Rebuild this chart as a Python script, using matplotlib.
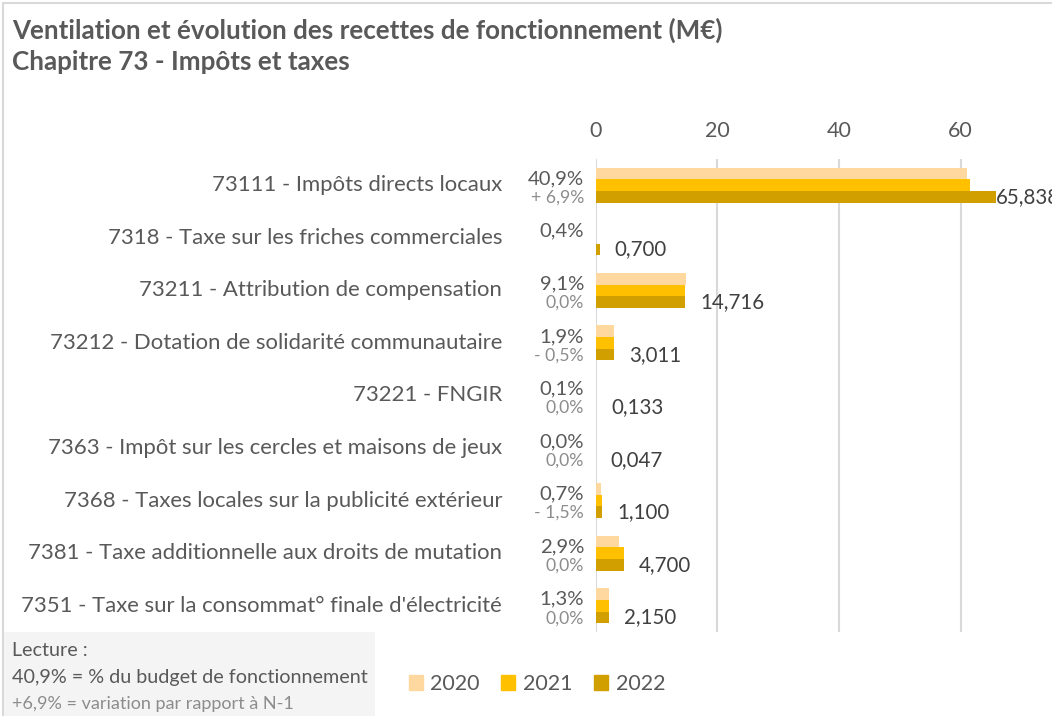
import matplotlib
matplotlib.use("Agg")
import matplotlib.pyplot as plt
from matplotlib.patches import Rectangle
import numpy as np

plt.rcParams['font.family'] = ['Lato', 'DejaVu Sans']

title = "Ventilation et évolution des recettes de fonctionnement (M€)"
subtitle = "Chapitre 73 - Impôts et taxes"

categories = [
    "73111 - Impôts directs locaux",
    "7318 - Taxe sur les friches commerciales",
    "73211 - Attribution de compensation",
    "73212 - Dotation de solidarité communautaire",
    "73221 - FNGIR",
    "7363 - Impôt sur les cercles et maisons de jeux",
    "7368 - Taxes locales sur la publicité extérieur",
    "7381 - Taxe additionnelle aux droits de mutation",
    "7351 - Taxe sur la consommat° finale d'électricité",
]
v2020 = [61.0, 0.0, 14.95, 3.10, 0.133, 0.047, 0.95, 3.80, 2.30]
v2021 = [61.59, 0.0, 14.716, 3.026, 0.133, 0.047, 1.117, 4.70, 2.15]
v2022 = [65.838, 0.700, 14.716, 3.011, 0.133, 0.047, 1.100, 4.700, 2.150]
share = ["40,9%", "0,4%", "9,1%", "1,9%", "0,1%", "0,0%", "0,7%", "2,9%", "1,3%"]
variation = ["+ 6,9%", "", "0,0%", "- 0,5%", "0,0%", "0,0%", "- 1,5%", "0,0%", "0,0%"]
years = ["2020", "2021", "2022"]
xticks = [0, 20, 40, 60]

colors = ["#FFD8A0", "#FFC000", "#D29F00"]
dark = "#595959"
light = "#8C8C8C"

W, H = 1052, 716
fig = plt.figure(figsize=(W / 100, H / 100), dpi=100)

x0_px, top_px, bot_px = 595.5, 159, 632
ax = fig.add_axes([x0_px / W, 1 - bot_px / H, (W - x0_px) / W, (bot_px - top_px) / H])
n = len(categories)
y = np.arange(n)
h = 0.222
ax.barh(y - h, v2020, height=h, color=colors[0], label=years[0])
ax.barh(y, v2021, height=h, color=colors[1], label=years[1])
ax.barh(y + h, v2022, height=h, color=colors[2], label=years[2])

xmax = 75.0
ax.set_xlim(0, xmax)
ax.set_ylim(n - 0.5, -0.5)
ax.set_xticks(xticks)
ax.set_xticklabels([str(t) for t in xticks])
ax.xaxis.tick_top()
ax.tick_params(axis='x', length=0, pad=13, labelsize=15.5, labelcolor=dark)
ax.set_yticks([])
for s in ax.spines.values():
    s.set_visible(False)
ax.grid(axis='x', color="#D9D9D9", linewidth=1.5)
ax.set_axisbelow(True)

for i in range(n):
    ax.annotate(categories[i], xy=(0, i), xycoords='data', xytext=(-93.5, 0),
                textcoords='offset pixels', ha='right', va='center',
                fontsize=15.9, color=dark, annotation_clip=False)
    ax.annotate(share[i], xy=(0, i), xytext=(-11.5, 6.5), textcoords='offset pixels',
                ha='right', va='center', fontsize=14.6, color=dark, annotation_clip=False)
    if variation[i]:
        ax.annotate(variation[i], xy=(0, i), xytext=(-11.5, -12.5), textcoords='offset pixels',
                    ha='right', va='center', fontsize=12.7, color=light, annotation_clip=False)
    v = v2022[i]
    off = 0 if v > 0.8 * xmax else 15
    ax.annotate(f"{v:.3f}".replace('.', ','), xy=(v, i + h), xytext=(off, 0),
                textcoords='offset pixels', ha='left', va='center', fontsize=14.8,
                color="#404040", annotation_clip=False)

# titles
fig.text(12 / W, 1 - 30 / H, title, fontsize=18.7, fontweight='bold', color=dark,
         ha='left', va='center')
fig.text(12 / W, 1 - 62 / H, subtitle, fontsize=18.7, fontweight='bold', color=dark,
         ha='left', va='center')

# chart border
fig.patches.append(Rectangle((3 / W, -0.05), 1.2, 1 - 3 / H + 0.05, transform=fig.transFigure,
                             fill=False, edgecolor="#D9D9D9", linewidth=1.5))
# lecture box
fig.patches.append(Rectangle((4 / W, 0), (375 - 4) / W, (H - 632) / H, transform=fig.transFigure,
                             facecolor="#F4F4F4", edgecolor='none'))
fig.text(12 / W, 1 - 651 / H, "Lecture :", fontsize=14.2, color=dark, ha='left', va='center')
fig.text(12 / W, 1 - 678 / H, "40,9% = % du budget de fonctionnement", fontsize=14.2,
         color=dark, ha='left', va='center')
fig.text(12 / W, 1 - 704 / H, "+6,9% = variation par rapport à N-1", fontsize=13,
         color=light, ha='left', va='center')

handles = [Rectangle((0, 0), 1, 1, color=c) for c in colors]
fig.legend(handles, years, loc='center', bbox_to_anchor=(537 / W, 1 - 684 / H), ncol=3,
           frameon=False, fontsize=15.5, labelcolor=dark, handlelength=0.65, handleheight=0.65,
           handletextpad=0.35, columnspacing=1.0)

fig.savefig("out.png", dpi=100)
